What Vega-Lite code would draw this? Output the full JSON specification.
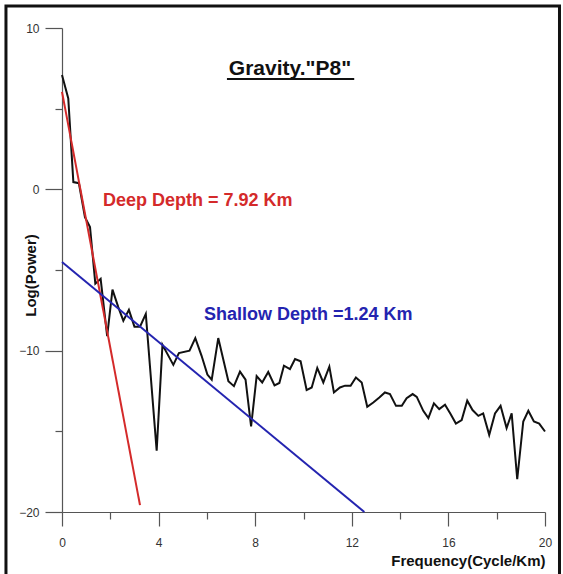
{
  "$schema": "https://vega.github.io/schema/vega-lite/v6.json",
  "width": 483,
  "height": 484,
  "autosize": "none",
  "padding": {"left": 62, "top": 28, "right": 18, "bottom": 62},
  "background": "white",
  "config": {
    "view": {"stroke": null},
    "font": "Liberation Sans",
    "axis": {"grid": false, "labelFlush": false, "domainColor": "#555", "tickColor": "#555", "domainWidth": 1.2, "tickWidth": 1.2, "labelColor": "#333", "labelFont": "Liberation Sans", "labelFontSize": 12, "titleFont": "Liberation Sans", "titleFontWeight": "bold", "titleFontSize": 15, "titleColor": "#111"}
  },
  "datasets": {
    "power": [
      {"f": 0, "v": 7.08}, {"f": 0.26, "v": 5.63}, {"f": 0.47, "v": 0.45}, {"f": 0.7, "v": 0.38},
      {"f": 0.95, "v": -1.72}, {"f": 1.16, "v": -2.34}, {"f": 1.38, "v": -5.85}, {"f": 1.6, "v": -5.55},
      {"f": 1.87, "v": -9.1}, {"f": 2.09, "v": -6.22}, {"f": 2.33, "v": -7.3}, {"f": 2.54, "v": -8.14},
      {"f": 2.77, "v": -7.47}, {"f": 3.0, "v": -8.51}, {"f": 3.23, "v": -8.51}, {"f": 3.47, "v": -7.72},
      {"f": 3.92, "v": -16.2}, {"f": 4.16, "v": -9.64}, {"f": 4.61, "v": -10.88}, {"f": 4.84, "v": -10.15},
      {"f": 5.28, "v": -10.0}, {"f": 5.52, "v": -9.22}, {"f": 5.78, "v": -10.32}, {"f": 6.02, "v": -11.48},
      {"f": 6.2, "v": -11.8}, {"f": 6.47, "v": -9.22}, {"f": 6.89, "v": -11.9}, {"f": 7.12, "v": -12.2},
      {"f": 7.37, "v": -11.3}, {"f": 7.6, "v": -11.8}, {"f": 7.83, "v": -14.7}, {"f": 8.06, "v": -11.58},
      {"f": 8.29, "v": -11.97}, {"f": 8.54, "v": -11.32}, {"f": 8.8, "v": -12.15}, {"f": 9.0, "v": -12.0},
      {"f": 9.19, "v": -10.93}, {"f": 9.44, "v": -11.14}, {"f": 9.65, "v": -10.52}, {"f": 9.88, "v": -10.66},
      {"f": 10.13, "v": -12.44}, {"f": 10.34, "v": -12.28}, {"f": 10.57, "v": -11.07}, {"f": 10.82, "v": -11.97},
      {"f": 11.07, "v": -10.99}, {"f": 11.26, "v": -12.59}, {"f": 11.51, "v": -12.28}, {"f": 11.72, "v": -12.17},
      {"f": 11.95, "v": -12.17}, {"f": 12.17, "v": -11.66}, {"f": 12.41, "v": -11.97}, {"f": 12.64, "v": -13.48},
      {"f": 12.89, "v": -13.21}, {"f": 13.14, "v": -12.9}, {"f": 13.37, "v": -12.59}, {"f": 13.58, "v": -12.69},
      {"f": 13.83, "v": -13.42}, {"f": 14.07, "v": -13.42}, {"f": 14.27, "v": -12.95}, {"f": 14.52, "v": -12.69},
      {"f": 14.69, "v": -12.86}, {"f": 14.96, "v": -13.73}, {"f": 15.17, "v": -14.18}, {"f": 15.4, "v": -13.27},
      {"f": 15.62, "v": -13.62}, {"f": 15.86, "v": -13.35}, {"f": 16.09, "v": -13.93}, {"f": 16.31, "v": -14.52},
      {"f": 16.55, "v": -14.3}, {"f": 16.78, "v": -13.1}, {"f": 17.0, "v": -13.68}, {"f": 17.24, "v": -14.04},
      {"f": 17.44, "v": -13.89}, {"f": 17.69, "v": -15.22}, {"f": 17.93, "v": -13.89}, {"f": 18.16, "v": -13.42},
      {"f": 18.41, "v": -14.8}, {"f": 18.62, "v": -13.89}, {"f": 18.85, "v": -17.97}, {"f": 19.1, "v": -14.39},
      {"f": 19.31, "v": -13.73}, {"f": 19.54, "v": -14.39}, {"f": 19.76, "v": -14.52}, {"f": 20.0, "v": -15.01}
    ],
    "deep": [{"f": 0, "v": 6.04}, {"f": 3.23, "v": -19.57}],
    "shallow": [{"f": 0, "v": -4.51}, {"f": 12.52, "v": -20}],
    "one": [{"k": 1}]
  },
  "layer": [
    {
      "data": {"name": "one"},
      "mark": {"type": "rect", "fill": null, "stroke": "#111", "strokeWidth": 3, "clip": false},
      "encoding": {
        "x": {"datum": -2.32, "type": "quantitative", "scale": {"domain": [0, 20]}},
        "x2": {"datum": 20.6},
        "y": {"datum": 11.37, "type": "quantitative", "scale": {"domain": [-20, 10]}},
        "y2": {"datum": -26}
      }
    },
    {
      "data": {"name": "power"},
      "mark": {"type": "line", "color": "#111", "strokeWidth": 2, "clip": false},
      "encoding": {
        "x": {"field": "f", "type": "quantitative", "scale": {"domain": [0, 20], "nice": false, "zero": false},
          "axis": {"values": [0, 2, 4, 6, 8, 10, 12, 14, 16, 18, 20], "labelExpr": "datum.value % 4 === 0 ? datum.label : ''",
            "tickSize": {"condition": {"test": "datum.value % 4 === 0", "value": 14}, "value": 7},
            "labelPadding": 11, "labelFlush": false, "title": "Frequency(Cycle/Km)", "titleAnchor": "end", "titlePadding": 5}},
        "y": {"field": "v", "type": "quantitative", "scale": {"domain": [-20, 10], "nice": false, "zero": false},
          "axis": {"values": [-20, -15, -10, -5, 0, 5, 10], "labelExpr": "datum.value % 10 === 0 ? datum.label : ''",
            "tickSize": {"condition": {"test": "datum.value % 10 === 0", "value": 17}, "value": 7},
            "labelPadding": 6, "title": "Log(Power)", "titleX": -32, "titleY": 247, "titleAngle": -90, "titleAlign": "center", "titleBaseline": "middle"}}
      }
    },
    {
      "data": {"name": "deep"},
      "mark": {"type": "line", "color": "#d42a2a", "strokeWidth": 2},
      "encoding": {"x": {"field": "f", "type": "quantitative"}, "y": {"field": "v", "type": "quantitative"}}
    },
    {
      "data": {"name": "shallow"},
      "mark": {"type": "line", "color": "#2424b0", "strokeWidth": 2},
      "encoding": {"x": {"field": "f", "type": "quantitative"}, "y": {"field": "v", "type": "quantitative"}}
    },
    {
      "data": {"name": "one"},
      "mark": {"type": "text", "text": "Gravity.\"P8\"", "fontSize": 21, "fontWeight": "bold", "color": "#111", "align": "center", "baseline": "alphabetic"},
      "encoding": {"x": {"datum": 9.44, "type": "quantitative"}, "y": {"datum": 7.08, "type": "quantitative"}}
    },
    {
      "data": {"name": "one"},
      "mark": {"type": "rule", "color": "#111", "strokeWidth": 2},
      "encoding": {"x": {"datum": 6.83, "type": "quantitative"}, "x2": {"datum": 12.1}, "y": {"datum": 6.84, "type": "quantitative"}}
    },
    {
      "data": {"name": "one"},
      "mark": {"type": "text", "text": "Deep Depth = 7.92 Km", "fontSize": 18, "fontWeight": "bold", "color": "#d42a2a", "align": "left", "baseline": "alphabetic"},
      "encoding": {"x": {"datum": 1.7, "type": "quantitative"}, "y": {"datum": -1.04, "type": "quantitative"}}
    },
    {
      "data": {"name": "one"},
      "mark": {"type": "text", "text": "Shallow Depth =1.24 Km", "fontSize": 18, "fontWeight": "bold", "color": "#2424b0", "align": "left", "baseline": "alphabetic"},
      "encoding": {"x": {"datum": 5.88, "type": "quantitative"}, "y": {"datum": -8.1, "type": "quantitative"}}
    }
  ]
}
